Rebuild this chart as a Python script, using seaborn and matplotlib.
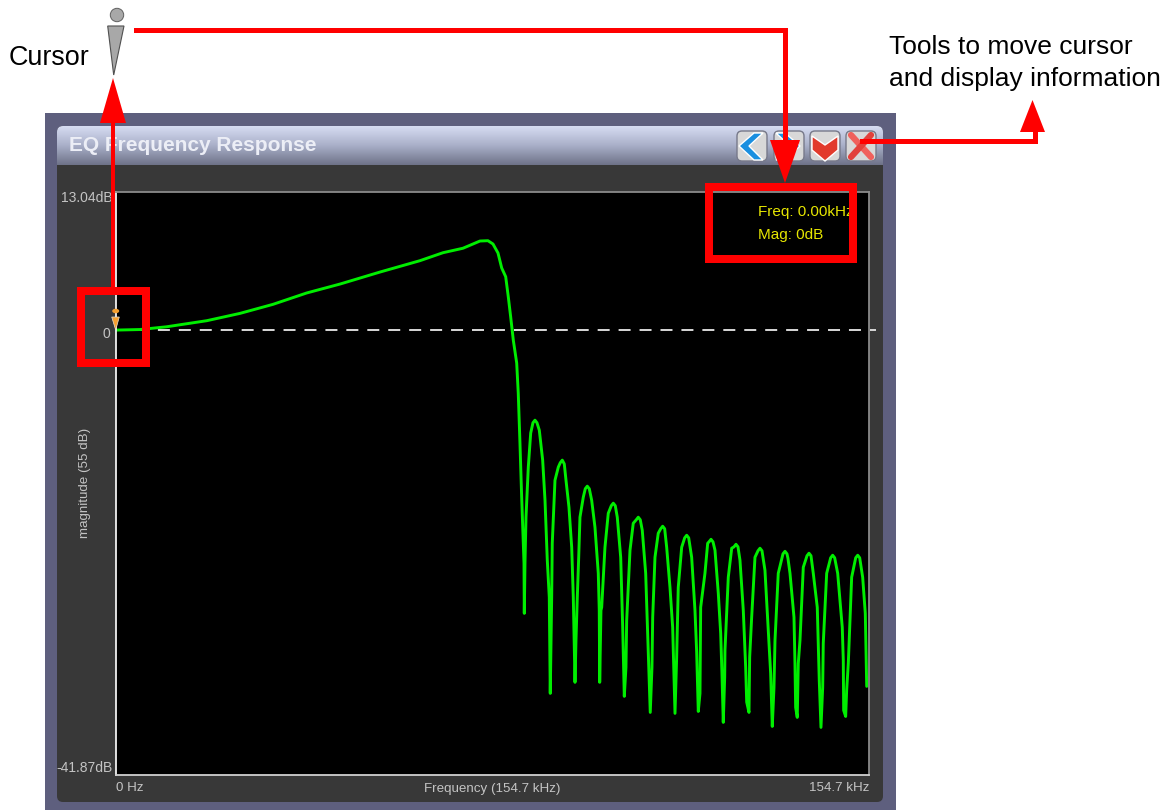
import numpy as np
import matplotlib
matplotlib.use("Agg")
import matplotlib.pyplot as plt
import seaborn as sns
from matplotlib.patches import FancyBboxPatch, Polygon, Rectangle, Circle, Ellipse
from matplotlib.transforms import ScaledTranslation

# Frequency response, one row per lobe
freq_khz = [0, 0.25, 5.03, 10.51, 18.72, 25.56, 32.33, 39.25, 46.09, 54.30, 62.51, 67.24, 71.34,
            74.83, 76.47, 77.50, 78.53, 79.29, 80.11, 80.64, 81.13, 81.67, 82.37, 82.69, 83.04,
            83.39, 83.87, 83.93,
            84.07, 84.28, 84.75, 85.24, 85.71, 86.12, 86.53, 87.01, 87.70, 88.18, 88.65, 89.06, 89.26,
            89.55, 89.67, 90.23, 90.91, 91.32, 91.73, 92.14, 92.49, 93.10, 93.66, 93.99, 94.34,
            94.54, 94.81, 95.10, 95.36, 96.04, 96.45, 96.86, 97.27, 97.76, 98.44, 99.12, 99.32, 99.41,
            99.67, 99.82, 100.49, 101.17, 101.79, 102.20, 102.61, 103.02, 103.72, 104.13, 104.46,
            104.80, 104.95, 105.63, 106.30, 106.92, 107.33, 107.74, 108.15, 108.85, 109.38, 109.79,
            110.14, 110.29, 110.76, 111.43, 111.93, 112.34, 112.75, 113.16, 113.84, 114.39, 114.87,
            115.21, 115.54, 116.24, 116.86, 117.27, 117.68, 118.29, 118.97, 119.32, 119.65,
            120.00, 120.14, 121.02, 121.58, 121.85, 122.26, 122.67, 123.08, 123.76, 124.25, 124.51, 124.78,
            125.07, 125.13, 125.81, 126.51, 126.98, 127.39, 127.80, 128.21, 128.89, 129.38, 129.59, 130.06,
            130.20, 130.61, 131.29, 131.91, 132.32, 132.73, 133.34, 134.02, 134.51, 134.84,
            135.19, 135.40, 136.07, 137.04, 137.45, 137.86, 138.06, 138.48, 139.30, 139.50, 139.64, 139.97,
            140.18, 140.53, 141.21, 141.97, 142.38, 142.79, 143.26, 144.08, 144.49, 144.84,
            145.19, 145.31, 146.01, 146.83, 147.24, 147.65, 148.27, 149.21, 149.42, 149.50, 149.91,
            150.11, 150.45, 151.14, 151.97, 152.38, 152.79, 153.40, 153.94, 154.23]
mag_db = [0, 0, 0.05, 0.31, 0.88, 1.57, 2.42, 3.49, 4.33, 5.46, 6.53, 7.28, 7.70,
          8.38, 8.41, 8.10, 7.25, 5.84, 5.02, 3.14, 1.25, -0.94, -3.11, -5.93, -10.64,
          -15.73, -21.95, -26.66,
          -21.95, -17.61, -12.90, -9.70, -8.72, -8.48, -8.72, -9.42, -12.24, -16.01, -21.66, -25.15, -34.19,
          -25.15, -20.06, -14.13, -12.90, -12.48, -12.24, -12.60, -14.13, -16.67, -20.44, -25.15, -33.15,
          -29.20, -25.15, -21.38, -17.61, -15.73, -14.93, -14.69, -14.93, -16.01, -18.56, -22.89, -26.37, -33.15,
          -26.37, -26.09, -20.44, -17.24, -16.53, -16.29, -16.53, -17.61, -21.38, -27.97, -34.47,
          -31.74, -27.32, -20.72, -18.18, -17.85, -17.61, -17.85, -18.84, -22.89, -30.14, -35.98,
          -31.74, -27.03, -21.38, -19.12, -18.70, -18.46, -18.70, -20.44, -24.21, -27.97, -36.07,
          -30.80, -24.21, -20.44, -19.55, -19.31, -19.55, -21.38, -26.37, -30.33, -35.89,
          -34.19, -26.09, -22.89, -20.06, -19.93, -19.69, -19.93, -20.72, -24.77, -28.54, -32.31, -36.92,
          -32.68, -30.14, -23.26, -20.53, -20.40, -20.16, -20.40, -21.66, -26.37, -31.74, -35.01, -35.98,
          -30.77, -27.03, -21.38, -20.77, -20.53, -20.77, -22.61, -28.26, -32.31, -37.30,
          -33.63, -29.20, -22.89, -21.06, -20.82, -21.06, -21.48, -22.89, -27.03, -31.37, -35.51, -36.45,
          -31.37, -29.20, -22.32, -21.24, -21.00, -21.24, -22.89, -26.09, -32.97, -37.39,
          -33.63, -29.48, -22.89, -21.43, -21.19, -21.43, -22.89, -27.97, -31.08, -35.79, -36.36,
          -33.91, -31.37, -23.26, -21.43, -21.19, -21.43, -23.26, -26.66, -33.53]

y_ticks = [13.04, 0, -41.87]
y_tick_labels = ["13.04dB", "0", "-41.87dB"]
x_ticks = [0, 154.7]
x_tick_labels = ["0 Hz", "154.7 kHz"]

sns.set_theme(style="white")
plt.rcParams["font.family"] = ["Liberation Sans", "DejaVu Sans"]

W, H = 1171, 810
RED = "#ff0000"
GREY = "#c4c4c4"

fig = plt.figure(figsize=(W / 100, H / 100), dpi=100, facecolor="white")


def pixel_axes(z):
    a = fig.add_axes([0, 0, 1, 1], zorder=z)
    a.set_xlim(0, W)
    a.set_ylim(H, 0)
    a.axis("off")
    return a


# window behind the chart
bg = pixel_axes(0)
bg.add_patch(Rectangle((45, 113), 851, 697, fc="#5e5f7e", ec="none"))
bg.add_patch(FancyBboxPatch((60, 129), 820, 670, boxstyle="round,pad=3,rounding_size=6", fc="#383838", ec="none"))
grad = np.linspace(0, 1, 64).reshape(-1, 1)
title_cmap = matplotlib.colors.LinearSegmentedColormap.from_list("title", ["#d6dcf2", "#a9afc8", "#6f7389"])
im = bg.imshow(grad, extent=(57, 883, 165, 126), cmap=title_cmap, aspect="auto", zorder=2)
clip = FancyBboxPatch((60, 129), 820, 40, boxstyle="round,pad=3,rounding_size=6", fc="none", ec="none", transform=bg.transData)
bg.add_patch(clip)
im.set_clip_path(clip)
bg.set_xlim(0, W)
bg.set_ylim(H, 0)
bg.text(69, 145.5, "EQ Frequency Response", color="#eceef6", fontsize=15.05, fontweight="bold", va="center", zorder=3)

# title bar buttons
for cx in [752, 789, 825, 861]:
    bg.add_patch(FancyBboxPatch((cx - 13, 133), 26, 26, boxstyle="round,pad=2,rounding_size=5",
                                fc="#d8d8d8", ec="#77798a", lw=1, zorder=3))
bg.add_patch(Polygon([[763, 133], [749, 146], [763, 160], [754, 160], [739, 146], [754, 133]], fc="#1a8fe0", zorder=4))
bg.add_patch(Polygon([[776, 133], [790, 146], [776, 160], [785, 160], [800, 146], [785, 133]], fc="#1a8fe0", zorder=4))
bg.add_patch(Polygon([[812, 136], [825, 145], [838, 136], [838, 150], [825, 161], [812, 150]], fc="#e23a2c", zorder=4))
bg.plot([851, 871], [135, 157], color="#f0605c", lw=4.5, zorder=4)
bg.plot([851, 871], [157, 135], color="#e2413c", lw=4.5, zorder=4)

# the chart
left, right, top, bottom = 115.5, 869, 191.5, 775
ax = fig.add_axes([left / W, 1 - bottom / H, (right - left) / W, (bottom - top) / H], zorder=1, facecolor="black")
ax.plot([0, 156.1], [0, 0], color="#d8d8d8", lw=1.4, ls=(0, (6.17, 4.6)), clip_on=False, zorder=1)
sns.lineplot(x=freq_khz, y=mag_db, color="#00ee00", lw=2.1, estimator=None, sort=False, ax=ax, zorder=2)
ax.set_xlim(0, 154.7)
ax.set_ylim(-41.87, 13.04)
ax.set_xticks(x_ticks, x_tick_labels, color=GREY, fontsize=9.6)
ax.set_yticks(y_ticks, y_tick_labels, color=GREY, fontsize=10)
ax.tick_params(length=0, pad=2.4)
ax.tick_params(axis="x", pad=5)
ax.get_xticklabels()[0].set_ha("left")
ax.get_xticklabels()[1].set_ha("right")
for lab, dx, dy in zip(ax.get_yticklabels(), [0, -2, 0], [-5, -2.5, 8.5]):
    lab.set_transform(lab.get_transform() + ScaledTranslation(dx / 100, dy / 100, fig.dpi_scale_trans))
ax.set_xlabel("Frequency (154.7 kHz)", color=GREY, fontsize=9.6, va="center")
ax.set_ylabel("magnitude (55 dB)", color=GREY, fontsize=9.6, va="center")
ax.xaxis.set_label_coords(0.4997, -14 / 583.5)
ax.yaxis.set_label_coords(-30.5 / 753.5, 0.5)
for name, col in [("left", "#f0f0f0"), ("bottom", "#d0d0d0"), ("top", "#8a8a8a"), ("right", "#8a8a8a")]:
    ax.spines[name].set_visible(True)
    ax.spines[name].set_color(col)
    ax.spines[name].set_linewidth(1.3)

# callouts on top
over = pixel_axes(2)
over.text(758, 212, "Freq: 0.00kHz", color="#e6e600", fontsize=11, va="center", zorder=1)
over.text(758, 235, "Mag: 0dB", color="#e6e600", fontsize=11, va="center", zorder=1)

over.add_patch(Ellipse((115.7, 311), 7, 4.5, fc="#f5a030", ec="none", zorder=2))
over.add_patch(Polygon([[111.7, 317], [119.3, 317], [115.7, 330]], fc="#f5a030", ec="#e8e0d0", lw=0.5, zorder=2))

over.add_patch(Circle((117, 15), 6.7, fc="#a8a8a8", ec="#606060", lw=0.7))
over.add_patch(Polygon([[107.7, 26], [124, 26], [113.7, 75]], fc="#a8a8a8", ec="#505050", lw=0.8))

for x0, y0, x1, y1 in [(77, 287, 150, 367), (705, 183, 857, 263)]:
    over.add_patch(Rectangle((x0 + 4, y0 + 4), x1 - x0 - 8, y1 - y0 - 8, fc="none", ec=RED, lw=5.76, zorder=5))

over.add_patch(Rectangle((110.7, 122), 4.6, 168, fc=RED, ec="none", zorder=5))
over.add_patch(Polygon([[100, 123], [126, 123], [113, 78]], fc=RED, ec="none", zorder=5))

over.add_patch(Rectangle((134, 27.5), 653.5, 5, fc=RED, ec="none", zorder=5))
over.add_patch(Rectangle((782.5, 27.5), 5, 115, fc=RED, ec="none", zorder=5))
over.add_patch(Polygon([[770, 140], [800, 140], [785, 183]], fc=RED, ec="none", zorder=5))

over.add_patch(Rectangle((860, 139), 177, 5, fc=RED, ec="none", zorder=5))
over.add_patch(Rectangle((1032.5, 128), 5, 16, fc=RED, ec="none", zorder=5))
over.add_patch(Polygon([[1020, 132], [1045, 132], [1032.5, 100]], fc=RED, ec="none", zorder=5))

over.text(9, 58, "Cursor", color="black", fontsize=19.4, va="center")
over.text(889, 47, "Tools to move cursor", color="black", fontsize=19, va="center")
over.text(889, 79, "and display information", color="black", fontsize=19, va="center")

fig.savefig("out.png", dpi=100, facecolor="white")
